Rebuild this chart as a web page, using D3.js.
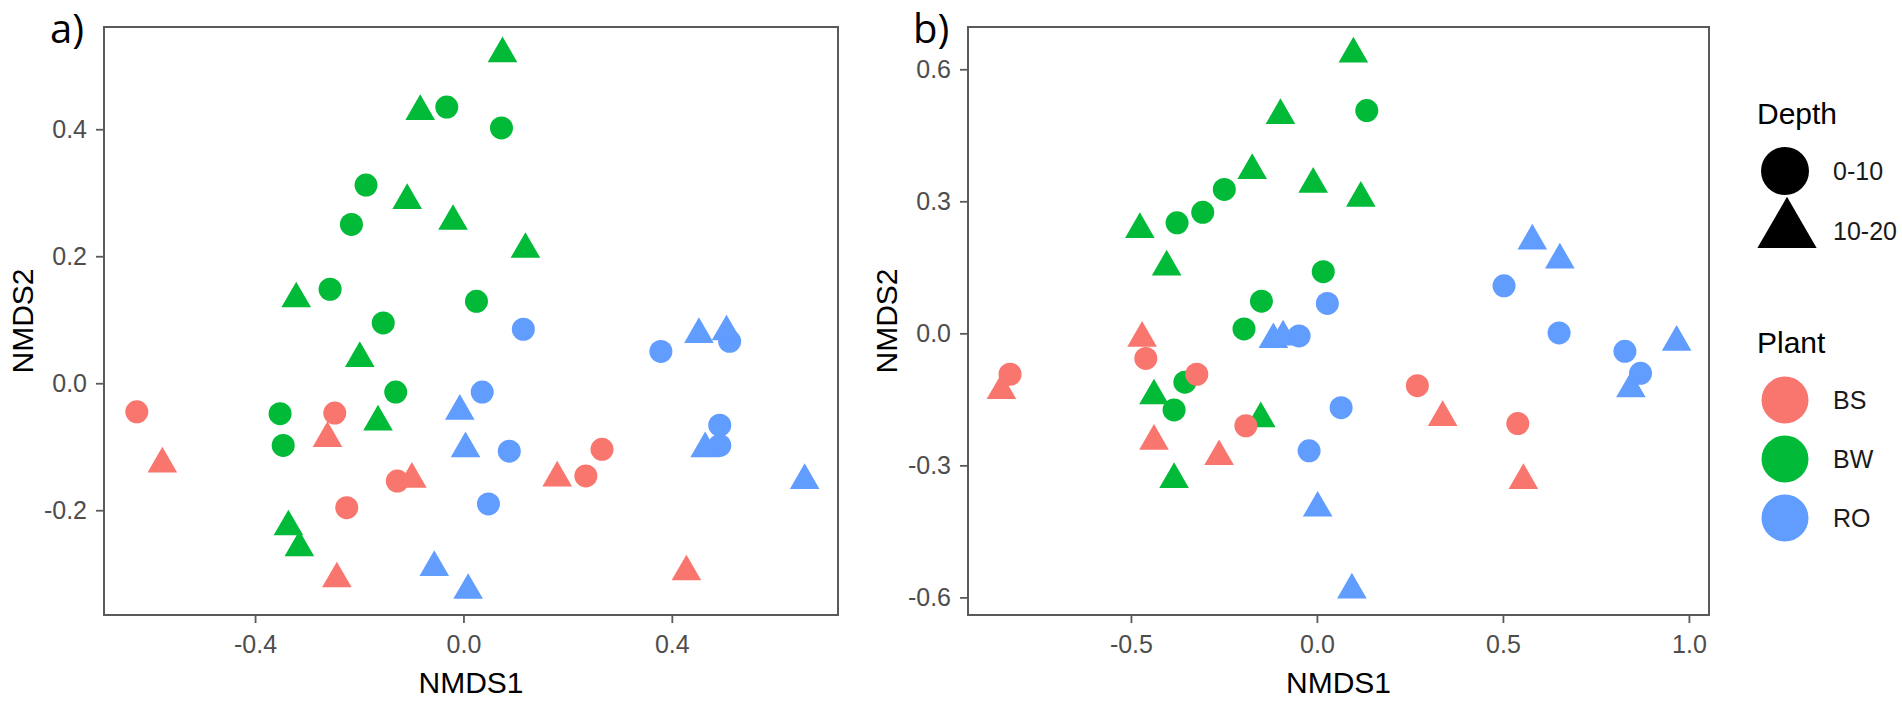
<!DOCTYPE html>
<html>
<head>
<meta charset="utf-8">
<script src="https://cdnjs.cloudflare.com/ajax/libs/d3/7.8.5/d3.min.js"></script>
<style>
  html, body { margin: 0; padding: 0; background: #fff; }
  svg { display: block; }
</style>
</head>
<body>
<div id="chart"></div>
<script>

// categories
var plants = ['BS', 'BW', 'RO'];
var depths = ['0-10', '10-20'];
var plantColors = ['#F8766D', '#00BA38', '#619CFF'];

// panel a) scores, [NMDS1, NMDS2]
var a_BS_0_10 = [[-0.627, -0.045], [-0.247, -0.047], [-0.127, -0.154], [-0.224, -0.196], [0.235, -0.146], [0.266, -0.104]];
var a_BS_10_20 = [[-0.578, -0.127], [-0.261, -0.087], [-0.099, -0.151], [-0.243, -0.308], [0.180, -0.149], [0.428, -0.297]];
var a_BW_0_10 = [[-0.032, 0.435], [-0.187, 0.312], [-0.215, 0.250], [-0.256, 0.148], [-0.154, 0.095], [0.025, 0.129], [-0.130, -0.014], [-0.352, -0.048], [-0.346, -0.098], [0.073, 0.402]];
var a_BW_10_20 = [[-0.083, 0.428], [-0.108, 0.288], [-0.020, 0.255], [-0.321, 0.133], [-0.199, 0.039], [-0.164, -0.061], [-0.336, -0.226], [-0.315, -0.259], [0.075, 0.519], [0.119, 0.211]];
var a_RO_0_10 = [[0.036, -0.014], [0.088, -0.107], [0.048, -0.190], [0.115, 0.085], [0.379, 0.050], [0.511, 0.066], [0.492, -0.066], [0.492, -0.098]];
var a_RO_10_20 = [[-0.007, -0.044], [0.004, -0.103], [-0.056, -0.290], [0.009, -0.326], [0.452, 0.077], [0.505, 0.081], [0.464, -0.103], [0.655, -0.153]];

// panel b) scores, [NMDS1, NMDS2]
var b_BS_0_10 = [[-0.460, -0.057], [-0.825, -0.093], [-0.323, -0.093], [-0.191, -0.210], [0.270, -0.119], [0.540, -0.205]];
var b_BS_10_20 = [[-0.470, -0.011], [-0.848, -0.130], [-0.438, -0.245], [-0.263, -0.280], [0.338, -0.191], [0.555, -0.334]];
var b_BW_0_10 = [[0.134, 0.506], [-0.249, 0.327], [-0.307, 0.275], [-0.376, 0.251], [0.017, 0.140], [-0.149, 0.073], [-0.196, 0.010], [-0.355, -0.111], [-0.384, -0.174]];
var b_BW_10_20 = [[0.098, 0.635], [-0.098, 0.495], [-0.174, 0.370], [-0.010, 0.339], [0.118, 0.307], [-0.476, 0.236], [-0.404, 0.151], [-0.438, -0.142], [-0.151, -0.194], [-0.384, -0.332]];
var b_RO_0_10 = [[0.028, 0.068], [-0.048, -0.006], [0.065, -0.169], [-0.021, -0.267], [0.503, 0.108], [0.651, 0.001], [0.828, -0.041], [0.870, -0.091]];
var b_RO_10_20 = [[-0.117, -0.014], [-0.091, -0.008], [0.002, -0.397], [0.094, -0.583], [0.579, 0.210], [0.653, 0.167], [0.967, -0.020], [0.844, -0.126]];

// axis ticks and limits
var aTicksX = [-0.4, 0.0, 0.4];
var aTicksY = [-0.2, 0.0, 0.2, 0.4];
var aLimX = [-0.690, 0.719];
var aLimY = [-0.365, 0.561];
var bTicksX = [-0.5, 0.0, 0.5, 1.0];
var bTicksY = [-0.6, -0.3, 0.0, 0.3, 0.6];
var bLimX = [-0.938, 1.054];
var bLimY = [-0.640, 0.696];

var attrs = {
  width: 1902,
  height: 701,
  font: '"Liberation Sans", Arial, sans-serif',
  tickFont: 25,
  titleFont: 30,
  pointR: 11.5,
  triR: 11,
  frameColor: '#5a5a5a',
  tickTextColor: '#4d4d4d'
};

// build rows for one panel
function panelRows(groups) {
  var rows = [];
  groups.forEach(function (g) {
    g.values.forEach(function (v) {
      rows.push({ plant: g.plant, depth: g.depth, x: v[0], y: v[1] });
    });
  });
  return rows;
}

var panels = [
  {
    label: 'a)', labelX: 50, left: 104, right: 838, top: 27, bottom: 615, yTitleX: 33,
    limX: aLimX, limY: aLimY, ticksX: aTicksX, ticksY: aTicksY,
    rows: panelRows([
      { plant: 'BW', depth: '0-10', values: a_BW_0_10 },
      { plant: 'BW', depth: '10-20', values: a_BW_10_20 },
      { plant: 'RO', depth: '0-10', values: a_RO_0_10 },
      { plant: 'RO', depth: '10-20', values: a_RO_10_20 },
      { plant: 'BS', depth: '0-10', values: a_BS_0_10 },
      { plant: 'BS', depth: '10-20', values: a_BS_10_20 }
    ])
  },
  {
    label: 'b)', labelX: 913, left: 968, right: 1709, top: 27, bottom: 615, yTitleX: 897,
    limX: bLimX, limY: bLimY, ticksX: bTicksX, ticksY: bTicksY,
    rows: panelRows([
      { plant: 'BW', depth: '0-10', values: b_BW_0_10 },
      { plant: 'BW', depth: '10-20', values: b_BW_10_20 },
      { plant: 'RO', depth: '0-10', values: b_RO_0_10 },
      { plant: 'RO', depth: '10-20', values: b_RO_10_20 },
      { plant: 'BS', depth: '0-10', values: b_BS_0_10 },
      { plant: 'BS', depth: '10-20', values: b_BS_10_20 }
    ])
  }
];

var color = d3.scaleOrdinal().domain(plants).range(plantColors);

// R style filled triangle (pch 17) around its centre
function trianglePath(r) {
  var up = 1.5551 * r, down = 0.7776 * r, half = 1.3468 * r;
  return 'M0,' + (-up) + 'L' + half + ',' + down + 'L' + (-half) + ',' + down + 'Z';
}

var svg = d3.select('#chart').append('svg')
  .attr('width', attrs.width)
  .attr('height', attrs.height)
  .style('font-family', attrs.font);

var fmt = function (d) { return d.toFixed(1); };

panels.forEach(function (p) {
  var x = d3.scaleLinear().domain(p.limX).range([p.left, p.right]);
  var y = d3.scaleLinear().domain(p.limY).range([p.bottom, p.top]);
  var g = svg.append('g');

  // x axis
  var gx = g.append('g')
    .attr('transform', 'translate(0,' + p.bottom + ')')
    .call(d3.axisBottom(x).tickValues(p.ticksX).tickFormat(fmt).tickSize(8).tickPadding(12));
  // y axis
  var gy = g.append('g')
    .attr('transform', 'translate(' + p.left + ',0)')
    .call(d3.axisLeft(y).tickValues(p.ticksY).tickFormat(fmt).tickSize(8).tickPadding(9));

  [gx, gy].forEach(function (ax) {
    ax.select('.domain').remove();
    ax.selectAll('line').attr('stroke', attrs.frameColor).attr('stroke-width', 1.8);
    ax.selectAll('text')
      .attr('fill', attrs.tickTextColor)
      .style('font-size', attrs.tickFont + 'px')
      .style('font-family', attrs.font);
  });

  // points
  g.append('g').selectAll('path')
    .data(p.rows)
    .enter().append('path')
    .attr('transform', function (d) { return 'translate(' + x(d.x) + ',' + y(d.y) + ')'; })
    .attr('d', function (d) {
      return d.depth === '0-10'
        ? d3.symbol().type(d3.symbolCircle).size(Math.PI * attrs.pointR * attrs.pointR)()
        : trianglePath(attrs.triR);
    })
    .attr('fill', function (d) { return color(d.plant); });

  // panel border
  g.append('rect')
    .attr('x', p.left).attr('y', p.top)
    .attr('width', p.right - p.left).attr('height', p.bottom - p.top)
    .attr('fill', 'none')
    .attr('stroke', attrs.frameColor)
    .attr('stroke-width', 2);

  // axis titles
  g.append('text')
    .attr('x', (p.left + p.right) / 2).attr('y', 693)
    .attr('text-anchor', 'middle')
    .style('font-size', attrs.titleFont + 'px')
    .text('NMDS1');
  g.append('text')
    .attr('transform', 'translate(' + p.yTitleX + ',' + ((p.top + p.bottom) / 2) + ') rotate(-90)')
    .attr('text-anchor', 'middle')
    .style('font-size', attrs.titleFont + 'px')
    .text('NMDS2');

  // panel letter
  g.append('text')
    .attr('x', p.labelX).attr('y', 43)
    .style('font-family', '"Open Sans", "Noto Sans", sans-serif')
    .style('font-size', '40px')
    .text(p.label);
});

// legend
var legend = svg.append('g').attr('transform', 'translate(1757,0)');

legend.append('text').attr('x', 0).attr('y', 124)
  .style('font-size', attrs.titleFont + 'px').text('Depth');

var depthKeys = legend.selectAll('.depth-key')
  .data(depths)
  .enter().append('g')
  .attr('class', 'depth-key')
  .attr('transform', function (d, i) { return 'translate(28,' + (171 + i * 60) + ')'; });

depthKeys.append('path')
  .attr('d', function (d, i) {
    return i === 0
      ? d3.symbol().type(d3.symbolCircle).size(Math.PI * 24 * 24)()
      : trianglePath(22);
  })
  .attr('transform', function (d, i) { return i === 0 ? null : 'translate(2,0)'; })
  .attr('fill', '#000');

depthKeys.append('text')
  .attr('x', 48).attr('y', 0).attr('dy', '0.36em')
  .style('font-size', attrs.tickFont + 'px')
  .attr('fill', '#1a1a1a')
  .text(function (d) { return d; });

legend.append('text').attr('x', 0).attr('y', 353)
  .style('font-size', attrs.titleFont + 'px').text('Plant');

var plantKeys = legend.selectAll('.plant-key')
  .data(plants)
  .enter().append('g')
  .attr('class', 'plant-key')
  .attr('transform', function (d, i) { return 'translate(28,' + (400 + i * 59) + ')'; });

plantKeys.append('circle')
  .attr('r', 23.5)
  .attr('fill', function (d) { return color(d); });

plantKeys.append('text')
  .attr('x', 48).attr('y', 0).attr('dy', '0.36em')
  .style('font-size', attrs.tickFont + 'px')
  .attr('fill', '#1a1a1a')
  .text(function (d) { return d; });

</script>
</body>
</html>
